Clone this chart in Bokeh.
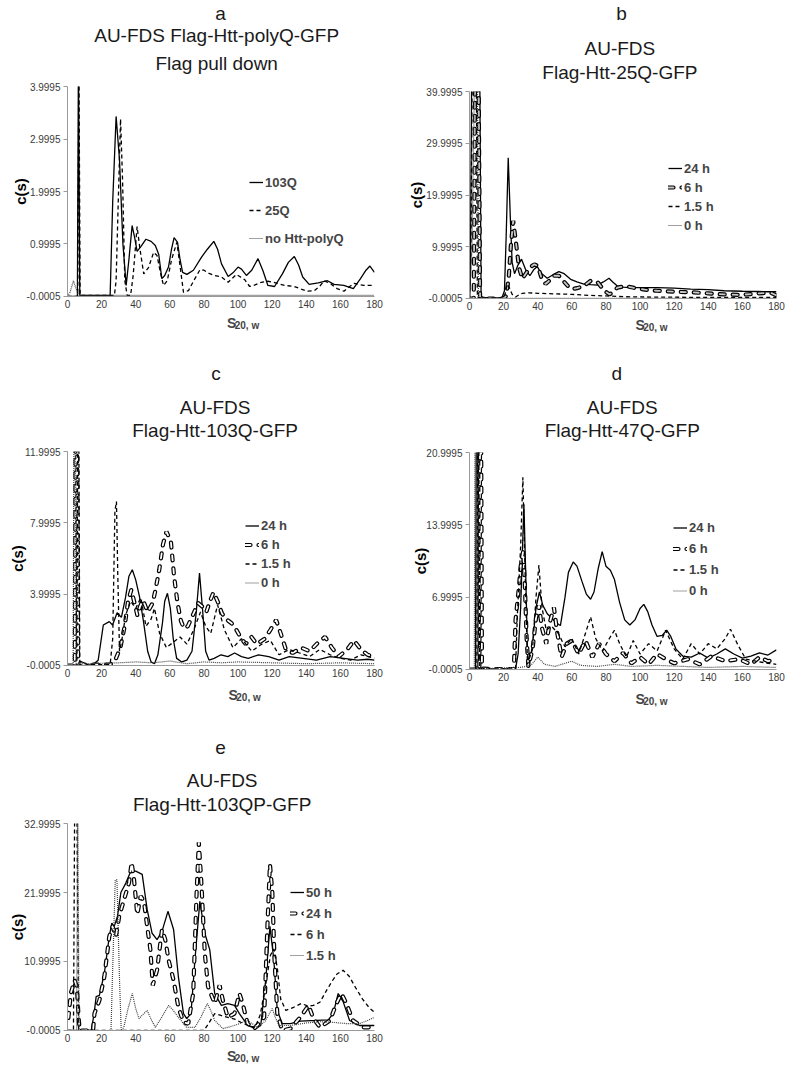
import math
from bokeh.plotting import figure
from bokeh.models import Range1d, FixedTicker, PrintfTickFormatter, Label, Legend, LegendItem
from bokeh.layouts import row, column
from bokeh.embed import file_html
from bokeh.resources import INLINE

FONT = "Liberation Sans"

x_ticks = [0, 20, 40, 60, 80, 100, 120, 140, 160, 180]

# ---------------- panel a ----------------
a_yticks = [-0.0005, 0.9995, 1.9995, 2.9995, 3.9995]
a_103q = [(0, 0), (5.8, 0), (6.4, 4.5), (7.2, 0.02), (15, 0.02), (25, 0.02), (26.5, 1.8), (28.5, 3.43),
          (30.5, 2.6), (32.5, 1.0), (34.4, 0.21), (36, 0.7), (37.9, 1.35), (39.5, 1.1), (40.8, 0.86),
          (43, 0.95), (46, 1.09), (49, 1.05), (51.5, 0.97), (53.5, 0.8), (55.3, 0.34), (57, 0.4),
          (59.2, 0.56), (61, 0.9), (62.5, 1.12), (64.5, 1.03), (66, 0.7), (67.5, 0.46), (70, 0.42),
          (73.8, 0.5), (78.6, 0.75), (82, 0.9), (85.8, 1.05), (88, 0.9), (90.3, 0.62), (94.2, 0.38),
          (97, 0.45), (100, 0.56), (102, 0.52), (104.9, 0.4), (108, 0.5), (111.7, 0.72), (114.5, 0.5),
          (117.5, 0.21), (121.4, 0.19), (126, 0.43), (129.5, 0.65), (133, 0.76), (135.5, 0.6),
          (137.9, 0.37), (141.7, 0.23), (147, 0.26), (152.4, 0.3), (156.3, 0.23), (162, 0.21),
          (167.6, 0.15), (171.8, 0.34), (175, 0.5), (177.3, 0.58), (180, 0.46)]
a_25q = [(0, 0), (6.0, 0), (6.7, 4.5), (7.4, 0.02), (15, 0.02), (27.5, 0.02), (28.5, 0.3), (29.5, 1.5),
         (31.1, 3.38), (32.3, 2.2), (33.6, 0.3), (35, 0.02), (37, 0.02), (38.5, 0.4), (40.8, 1.33),
         (42.5, 0.9), (44.7, 0.43), (47.5, 0.55), (50.5, 0.84), (52.5, 0.78), (54.5, 0.45), (56.3, 0.21),
         (58.5, 0.3), (61, 0.7), (64.1, 1.03), (65.5, 0.7), (68, 0.08), (70.9, 0.11), (74, 0.3),
         (77.7, 0.51), (80, 0.5), (83, 0.44), (86.4, 0.4), (90.3, 0.37), (94.2, 0.27), (99, 0.42),
         (101, 0.38), (103.9, 0.32), (106.8, 0.19), (110, 0.22), (113.6, 0.27), (117.5, 0.29),
         (122, 0.26), (127.2, 0.21), (133, 0.19), (137, 0.14), (140.8, 0.1), (144.7, 0.11), (148, 0.2),
         (150.5, 0.3), (154.4, 0.24), (158, 0.15), (162.1, 0.1), (165, 0.18), (168, 0.25),
         (173.8, 0.21), (180, 0.21)]
a_none = [(0, 0), (1.5, 0.08), (3.5, 0.3), (5, 0.15), (6.5, 0.03), (8, 0.02), (180, 0.02)]

# ---------------- panel b ----------------
b_yticks = [-0.0005, 9.9995, 19.9995, 29.9995, 39.9995]
b_24h = [(0, 0), (0.5, 3), (1.3, 45), (6.0, 45), (6.8, 0.3), (10, 0.1), (19, 0.1), (20.5, 1.5), (21.5, 12),
         (22.7, 27.2), (24, 15), (25, 7), (26.4, 4.8), (28.5, 6.5), (30.5, 7.6), (33, 5.5), (35.4, 4.4),
         (37.5, 5.5), (39.7, 6.2), (41.7, 5.0), (45.6, 3.9), (49, 4.6), (52.4, 5.2), (55.5, 4.8),
         (59.3, 3.7), (63, 3.2), (67.1, 2.8), (71, 2.7), (75, 2.6), (78.5, 3.2), (81.8, 3.9), (84, 3.2),
         (86.7, 2.4), (90, 2.2), (94.5, 2.1), (100, 2.1), (110, 2.1), (120, 2.0), (129.7, 1.8),
         (140, 1.7), (149.3, 1.5), (160, 1.4), (168.9, 1.35), (175, 1.3), (180, 1.3)]
b_6h = [(0, 0), (2.5, 0), (3.3, 45), (5.3, 45), (6.2, 0.2), (10, 0), (20, 0), (21.5, 0.5), (23, 4),
        (24.2, 10), (25.6, 15), (27, 11.5), (29, 6), (31, 3.8), (33, 4.8), (35.5, 6.0), (38, 6.6),
        (40, 6.3), (42, 4.2), (44.6, 2.8), (47, 3.5), (49, 4.4), (52.4, 4.4), (55, 3.4), (58, 2.3),
        (60, 1.8), (63, 2.0), (67, 2.4), (71, 3.4), (75, 3.2), (79, 1.5), (82, 0.8), (84, 1.2),
        (86.7, 2.1), (91.6, 2.4), (97.5, 2.0), (103, 1.7), (110, 1.5), (120, 1.3), (129.7, 1.2),
        (140, 1.0), (149, 0.8), (159, 0.7), (165, 0.85), (169, 1.0), (176.7, 1.1), (180, 0.6)]
b_15h = [(0, 0), (0.8, 8), (1.6, 45), (4.0, 45), (4.6, 0.2), (8, 0.1), (20, 0.1), (21, 1.0), (22.1, 2.8),
         (23.5, 2.0), (25, 0.8), (27, 0.3), (29, 0.7), (31, 1.0), (35, 1.1), (40, 1.0), (50, 0.9),
         (60, 0.8), (70, 0.6), (80, 0.5), (90, 0.35), (100, 0.3), (120, 0.25), (140, 0.2), (160, 0.2),
         (180, 0.2)]
b_0h = [(0, 0), (1.5, 10), (3.0, 45), (4.6, 45), (5.2, 0.1), (10, 0.05), (180, 0.05)]

# ---------------- panel c ----------------
c_yticks = [-0.0005, 3.9995, 7.9995, 11.9995]
c_24h = [(0, 0), (15, 0.05), (18, 0.3), (21, 2.27), (24.5, 2.46), (26.4, 2.27), (29.1, 2.96), (31.6, 2.7),
         (34, 3.8), (36, 5.0), (38, 5.37), (40, 4.8), (42.2, 3.86), (44.5, 2.5), (47, 0.8), (49, 0.2),
         (51, 0.1), (53, 0.6), (55.7, 2.4), (57, 3.6), (58.6, 4.05), (60.3, 3.2), (62, 1.5), (64, 0.4),
         (67, 0.2), (70, 0.3), (73, 0.8), (75.5, 3.0), (77.4, 5.18), (79.3, 3.0), (81, 0.8), (83, 0.3),
         (86, 0.4), (90, 0.6), (94, 0.5), (98, 0.7), (102, 0.5), (106, 0.4), (112, 0.6), (118, 0.5),
         (124, 0.3), (130, 0.5), (138, 0.4), (146, 0.3), (154, 0.5), (162, 0.4), (170, 0.3),
         (176, 0.35), (180, 0.3)]
c_6h = [(0, 0), (4.3, 0), (4.8, 14), (5.6, 14), (6.2, 0.2), (10, 0.05), (25, 0.05), (28, 0.3), (31, 1.0),
        (33.5, 2.2), (35.5, 3.6), (37.4, 4.24), (39.3, 3.5), (41, 2.8), (42.5, 3.3), (44.2, 3.68),
        (47, 3.0), (49.9, 3.5), (51.5, 4.2), (53.8, 5.37), (56, 6.8), (58, 7.5), (60.6, 6.96),
        (62.5, 5.0), (64.5, 3.5), (66.5, 2.5), (68.3, 2.08), (70.5, 2.2), (73.1, 2.74), (76.6, 3.5),
        (79, 3.3), (81.4, 3.0), (83.5, 3.6), (85.6, 4.1), (88, 3.6), (90.5, 2.93), (93, 2.6),
        (96.2, 2.37), (99, 2.0), (102, 1.5), (104.5, 1.2), (107.8, 1.6), (111, 1.2), (115.6, 1.5),
        (119, 2.0), (122.3, 2.55), (125, 1.8), (128, 0.9), (132, 0.7), (137, 1.0), (142, 0.8),
        (146, 1.2), (151, 1.6), (155, 1.0), (159, 0.5), (164, 0.9), (168, 1.4), (172, 0.9), (176, 0.6),
        (180, 0.5)]
c_15h = [(0, 0), (5.5, 0), (6.0, 14), (6.6, 14), (7.2, 0.2), (12, 0.05), (25, 0.05), (26.5, 1.5),
         (27.8, 8.65), (28.7, 9.2), (29.5, 5), (30.5, 0.8), (32, 1.5), (34, 2.8), (37, 3.6), (40, 3.2),
         (43, 3.8), (46, 2.2), (49, 2.6), (51, 3.2), (54, 1.8), (58, 1.0), (62, 1.3), (66, 1.6),
         (70, 1.2), (74, 2.0), (78, 3.0), (81, 2.2), (84, 1.8), (88, 3.4), (92, 2.0), (97, 1.0),
         (102, 1.5), (108, 0.8), (114, 1.2), (119, 1.4), (124, 0.6), (130, 0.9), (136, 0.7), (142, 0.5),
         (148, 0.9), (154, 0.6), (160, 0.4), (166, 0.3), (172, 0.6), (180, 0.4)]
c_0h = [(0, 0), (3.3, 0), (3.8, 14), (4.5, 14), (5.0, 0.1), (10, 0.1), (30, 0.15), (40, 0.2), (50, 0.15),
        (60, 0.25), (70, 0.1), (80, 0.2), (90, 0.15), (100, 0.2), (120, 0.15), (140, 0.1), (160, 0.15),
        (180, 0.1)]

# ---------------- panel d ----------------
d_yticks = [-0.0005, 6.9995, 13.9995, 20.9995]
d_24h = [(0, 0), (3.5, 0), (4.0, 24), (4.8, 24), (5.3, 0.1), (10, 0.05), (27, 0.05), (28.5, 1.5), (30, 6),
         (31.9, 16.0), (33, 9), (34, 1.5), (35, 0.3), (37, 2.5), (39, 6.0), (41, 7.5), (43, 6.2),
         (45.6, 5.4), (48, 5.0), (51, 4.5), (53.3, 4.25), (56, 7.0), (58, 9.4), (60.8, 10.4), (63, 10.0),
         (66, 8.5), (68.5, 7.3), (71, 6.8), (73, 7.5), (75.5, 9.8), (77.8, 11.4), (80, 10.0),
         (82.6, 9.6), (85, 8.7), (88, 6.5), (91, 4.8), (94, 4.3), (97, 4.8), (100, 5.9), (102.2, 6.3),
         (104.5, 5.6), (107, 4.3), (110, 3.2), (113, 3.3), (115.6, 3.8), (118, 3.2), (121, 2.0),
         (125, 1.3), (130, 1.2), (135, 1.6), (140, 1.1), (145, 1.5), (150, 2.0), (155, 1.5), (160, 1.1),
         (165, 1.3), (170, 1.6), (175, 1.4), (180, 1.9)]
d_6h = [(0, 0), (5.8, 0), (6.2, 24), (6.8, 24), (7.3, 0.1), (12, 0.05), (26, 0.05), (27, 4.8), (29, 8),
        (30, 10), (31.5, 11.5), (32.5, 8), (33.5, 3), (34.5, 0.3), (37, 2), (39, 5), (40.7, 6.2),
        (42.5, 4.0), (45, 2.5), (47, 4.5), (49.5, 6.0), (51.5, 3.5), (54, 1.2), (57, 2.5), (60, 2.8),
        (64, 1.5), (68, 2.8), (72, 1.2), (76, 2.5), (80, 1.5), (85, 0.8), (90, 1.6), (95, 0.6),
        (100, 1.2), (105, 0.5), (110, 1.5), (115, 1.0), (120, 0.6), (128, 1.0), (135, 0.5), (142, 1.3),
        (150, 0.8), (158, 1.0), (165, 0.5), (170, 1.2), (175, 0.8), (180, 1.0)]
d_15h = [(0, 0), (4.3, 0), (4.7, 24), (5.4, 24), (6.0, 0.1), (12, 0.05), (27, 0.05), (28, 5), (30, 12),
         (31.3, 18.6), (32.5, 10), (34, 0.5), (37, 2), (39, 7), (40.7, 10.1), (42.5, 6), (45, 3.8),
         (48, 4.2), (52, 3.5), (56, 2.2), (60, 3.0), (64, 1.5), (68, 3.5), (71, 5.1), (74, 3.0),
         (78, 1.8), (82, 3.0), (85, 3.8), (88, 2.5), (92, 1.2), (96, 2.8), (100, 1.5), (105, 2.5),
         (110, 1.8), (115, 3.8), (120, 2.0), (125, 1.0), (130, 2.5), (135, 1.5), (140, 2.5), (145, 2.0),
         (150, 3.0), (153, 3.9), (157, 2.5), (162, 1.0), (168, 0.8), (175, 0.6), (180, 0.5)]
d_0h = [(0, 0), (2.8, 0), (3.2, 24), (3.9, 24), (4.4, 0.1), (10, 0.1), (30, 0.2), (36, 0.4), (40, 1.2),
        (44, 0.5), (50, 0.3), (56, 0.6), (60, 0.8), (65, 0.4), (75, 0.3), (85, 0.5), (95, 0.3),
        (110, 0.4), (125, 0.3), (140, 0.2), (160, 0.3), (180, 0.2)]

# ---------------- panel e ----------------
e_yticks = [-0.0005, 10.9995, 21.9995, 32.9995]
e_50h = [(0, 0), (13.9, 0), (15.5, 2.5), (16.8, 5.4), (18.7, 5.6), (21.6, 9.1), (24.5, 15.0), (26, 17.1),
         (27.4, 16.6), (29.3, 18.2), (31.3, 22.0), (34.2, 23.5), (37.1, 25.4), (40, 25.4), (43.8, 24.9),
         (46.7, 19.3), (49.6, 15.5), (52.5, 14.5), (55.4, 15.8), (58.9, 19.0), (62.2, 16.1), (65, 8.6),
         (68, 2.7), (69.9, 1.9), (72.4, 2.7), (74.7, 11.2), (77.6, 20.6), (80.5, 15.5), (83.4, 12.9),
         (86.3, 5.9), (90.2, 4.0), (94, 4.3), (97.9, 4.0), (100.8, 2.7), (105.6, 0.8), (110.4, 0.3),
         (113.3, 0.8), (116.2, 8.0), (118.7, 16.6), (121, 11.2), (123, 3.2), (125.9, 1.1),
         (130.7, 1.1), (136.5, 1.5), (146.1, 1.6), (152.9, 1.7), (155.8, 2.7), (158.7, 5.9),
         (161.6, 4.6), (165.4, 1.6), (171.2, 0.8), (180, 0.8)]
e_24h = [(0.5, 2), (2, 6), (4.2, 8.0), (5.5, 7), (6.5, 2), (7.2, 0), (15, 0), (15.8, 2.7), (18.7, 4.8),
         (21.6, 8.6), (24.5, 15.0), (26.4, 16.6), (28.4, 15.0), (30.3, 18.2), (33.2, 20.9), (36.1, 23.6),
         (37.6, 26.8), (39, 24.1), (40.9, 18.5), (42.9, 21.4), (44.8, 20.6), (46.7, 16.6), (48.6, 12.9),
         (50, 7.2), (52.5, 9.6), (55.4, 16.1), (57.3, 14.5), (59.3, 11.2), (62.2, 8.0), (65, 3.7),
         (68, 1.3), (70.8, 1.1), (73.7, 5.9), (75.7, 22.0), (77, 30.0), (78.6, 23.0), (80.5, 12.3),
         (82.4, 7.0), (86.3, 4.3), (89.2, 7.2), (91.1, 4.8), (94, 2.1), (97.9, 2.7), (100.8, 5.9),
         (102.7, 4.3), (105.6, 1.1), (109.5, 0.3), (115.3, 2.1), (117.2, 16.6), (118.7, 26.5),
         (120.1, 22.0), (121.4, 11.2), (123, 2.7), (125.9, 0), (130.7, 0.3), (136.5, 2.1), (141.3, 4.0),
         (144.2, 1.9), (148.1, 0.5), (153.9, 1.6), (157.7, 4.3), (160.6, 5.9), (163.5, 4.3),
         (167.4, 1.6), (173.2, 0.5), (180, 0.5)]
e_6h = [(0, 0), (3.5, 0), (4.2, 36), (5.5, 36), (6.5, 0), (10, 0), (40, 0), (80, 0), (82, 0.8),
        (86.3, 2.7), (90, 2.4), (94, 2.1), (98, 1.8), (101.7, 1.3), (106, 0.8), (110, 0.5), (113, 2.5),
        (116, 7), (119, 12), (121, 13), (123, 10), (125, 5), (128, 3.2), (132.6, 3.7), (137, 4.3),
        (141, 3.9), (144.2, 4.0), (148, 4.5), (151.9, 6.4), (155, 7.8), (158, 9.0), (161.6, 9.6),
        (165, 8.7), (169, 6.8), (173, 5.0), (177, 3.6), (180, 2.9)]
e_15h = [(0, 0), (5.3, 0), (6.0, 36), (6.8, 0), (10, 0), (25.5, 0), (26.5, 10), (28, 24), (29, 24),
         (30.5, 8), (31.5, 0), (33, 0.5), (35.5, 3.5), (38, 5.9), (40, 3.5), (41.9, 1.9), (44, 2.5),
         (46.7, 3.2), (49, 1.8), (51.5, 0.5), (55, 2.0), (59.3, 4.0), (62, 3.2), (65, 2.1), (69.9, 0.5),
         (74.7, 0.5), (78, 2.0), (82, 4.3), (84, 3.2), (86.3, 1.6), (91.1, 0.3), (97.9, 0.8),
         (105.6, 1.6), (111.4, 0.5), (116, 1.5), (120, 3.5), (122, 2.0), (124, 0.8), (130.7, 0.8),
         (140, 1.2), (148, 1.4), (155.8, 1.3), (163.5, 1.1), (171.2, 1.1), (176, 1.6), (180, 2.1)]

LEFT_W, RIGHT_W = 391, 396
TITLE_COLOR = "#1a1a1a"


def add_series(p, pts, kind, fill="white"):
    xs = [q[0] for q in pts]
    ys = [q[1] for q in pts]
    if kind == "solid":
        return [p.line(xs, ys, line_color="black", line_width=1.3)]
    if kind == "dash":
        return [p.line(xs, ys, line_color="black", line_width=1.3, line_dash="4 3")]
    if kind == "dot":
        return [p.line(xs, ys, line_color="#404040", line_width=1.2, line_dash="1 1")]
    r1 = p.line(xs, ys, line_color="black", line_width=4.2, line_dash="5 8", line_cap="round")
    r2 = p.line(xs, ys, line_color=fill, line_width=1.8, line_dash="5 8", line_cap="round")
    return [r1, r2]


def band(x0, width, top, height, texts):
    """A text strip (no axes) covering page x [x0, x0+width), rows [top, top+height)."""
    b = figure(width=width, height=height, x_range=Range1d(0, width), y_range=Range1d(0, height),
               min_border=0, x_axis_type=None, y_axis_type=None, title=None,
               output_backend="svg", toolbar_location=None)
    b.outline_line_color = None
    for t in texts:
        if t[0] == "sub":
            _, cx, base = t
            y = height - (base - top)
            b.add_layout(Label(x=cx - x0 - 17, y=y, text="S", text_font=FONT, text_font_size="14px",
                               text_font_style="bold", text_align="left", text_baseline="bottom"))
            b.add_layout(Label(x=cx - x0 - 7, y=y, text="20, w", text_font=FONT, text_font_size="10px",
                               text_font_style="bold", text_align="left", text_baseline="bottom"))
        else:
            _, cx, cy, txt, size = t
            b.add_layout(Label(x=cx - x0, y=height - (cy - top), text=txt, text_font=FONT,
                               text_font_size=f"{size}px", text_align="center", text_baseline="middle",
                               text_color=TITLE_COLOR))
    return b


def make_panel(W, H, bl, br, bt, bb, yticks, ylab_standoff, series, leg):
    p = figure(width=W, height=H, min_border_left=bl, min_border_right=br, min_border_top=bt,
               min_border_bottom=bb, x_range=Range1d(0, 180),
               y_range=Range1d(yticks[0] - 0.0001, yticks[-1] + 0.0001), title=None,
               output_backend="svg", toolbar_location=None)
    p.outline_line_color = None
    p.xgrid.visible = False
    p.ygrid.visible = False
    for ax in (p.xaxis[0], p.yaxis[0]):
        ax.axis_line_color = "#9a9a9a"
        ax.major_tick_line_color = "#9a9a9a"
        ax.minor_tick_line_color = None
        ax.major_tick_in = 0
        ax.major_label_text_font = FONT
        ax.major_label_text_font_size = "10px"
        ax.major_label_text_color = "#3a3a3a"
    p.xaxis.ticker = FixedTicker(ticks=x_ticks)
    p.xaxis.major_tick_out = 0
    p.xaxis.major_label_standoff = 3
    p.yaxis.ticker = FixedTicker(ticks=yticks)
    p.yaxis.formatter = PrintfTickFormatter(format="%.4f")
    p.yaxis.major_tick_out = 4
    p.yaxis.major_label_standoff = 3
    p.yaxis.axis_label = "c(s)"
    p.yaxis.axis_label_text_font = FONT
    p.yaxis.axis_label_text_font_size = "15px"
    p.yaxis.axis_label_text_font_style = "bold"
    p.yaxis.axis_label_text_color = "black"
    p.yaxis.axis_label_standoff = ylab_standoff

    items = []
    for label, pts, kind, fill in series:
        rs = add_series(p, pts, kind, fill)
        items.append(LegendItem(label=label, renderers=rs))
    lx, ly, gh, sp = leg
    legend = Legend(items=items, location=(lx, ly), glyph_width=14, glyph_height=gh, label_height=gh,
                    spacing=sp, label_standoff=2, padding=0, margin=0, border_line_alpha=0,
                    background_fill_alpha=0, label_text_font=FONT, label_text_font_style="bold",
                    label_text_font_size="13px", label_text_baseline="middle")
    p.add_layout(legend)
    return p


# ---- left column (page x 0..391) ----
band_a = band(0, LEFT_W, 0, 78, [("t", 195, 13, "a", 19),
                                 ("t", 190, 35, "AU-FDS Flag-Htt-polyQ-GFP", 19),
                                 ("t", 190, 63, "Flag pull down", 19)])
pa = make_panel(LEFT_W, 238, 65, 17, 8, 20, a_yticks, -5,
                [("103Q", a_103q, "solid", None), ("25Q", a_25q, "dash", None),
                 ("no Htt-polyQ", a_none, "dot", None)],
                (182, 48, 20, 8))
band_c = band(0, LEFT_W, 316, 127, [("sub", 220, 330),
                                    ("t", 189, 373, "c", 19), ("t", 188, 407, "AU-FDS", 19),
                                    ("t", 188, 430, "Flag-Htt-103Q-GFP", 19)])
pc = make_panel(LEFT_W, 244, 67, 13, 8, 22, c_yticks, -4,
                [("24 h", c_24h, "solid", None), ("6 h", c_6h, "outlined", "white"),
                 ("1.5 h", c_15h, "dash", None), ("0 h", c_0h, "dot", None)],
                (178, 73, 19, 0))
band_e = band(0, LEFT_W, 687, 128, [("sub", 222, 702),
                                    ("t", 195, 747, "e", 19), ("t", 197, 780, "AU-FDS", 19),
                                    ("t", 197, 804, "Flag-Htt-103QP-GFP", 19)])
pe = make_panel(LEFT_W, 233, 64, 16, 8, 18, e_yticks, -5,
                [("50 h", e_50h, "solid", None), ("24 h", e_24h, "outlined", "white"),
                 ("6 h", e_6h, "dash", None), ("1.5 h", e_15h, "dot", None)],
                (223, 65, 20, 1))
band_f = band(0, LEFT_W, 1048, 21, [("sub", 220, 1063)])

# ---- right column (page x 391..787) ----
band_b = band(391, RIGHT_W, 0, 84, [("t", 587, 13, "b", 19), ("t", 585, 48, "AU-FDS", 19),
                                    ("t", 585, 72, "Flag-Htt-25Q-GFP", 19)])
pb = make_panel(RIGHT_W, 232, 78, 11, 7, 18, b_yticks, -2,
                [("24 h", b_24h, "solid", None), ("6 h", b_6h, "outlined", "#c8c8c8"),
                 ("1.5 h", b_15h, "dash", None), ("0 h", b_0h, "dot", None)],
                (199, 64, 18, 1))
band_d = band(391, RIGHT_W, 316, 128, [("sub", 622, 332),
                                       ("t", 581, 373, "d", 19), ("t", 588, 407, "AU-FDS", 19),
                                       ("t", 588, 430, "Flag-Htt-47Q-GFP", 19)])
pd_ = make_panel(RIGHT_W, 243, 78, 11, 8, 18, d_yticks, -6,
                 [("24 h", d_24h, "solid", None), ("6 h", d_6h, "outlined", "white"),
                  ("1.5 h", d_15h, "dash", None), ("0 h", d_0h, "dot", None)],
                 (204, 68, 21, 0))
band_g = band(391, RIGHT_W, 687, 128, [("sub", 622, 706)])

left = column(band_a, pa, band_c, pc, band_e, pe, band_f)
right = column(band_b, pb, band_d, pd_, band_g)
layout = row(left, right)
open("out.html", "w").write(file_html(layout, INLINE))
